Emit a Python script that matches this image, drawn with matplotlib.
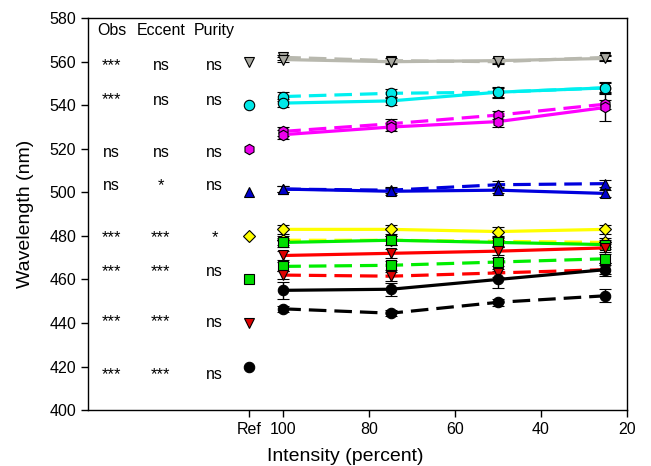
import matplotlib
matplotlib.use("Agg")
import matplotlib.pyplot as plt

plt.rcParams['font.family'] = ['Liberation Sans', 'DejaVu Sans']

intensity = [100, 75, 50, 25]
ref_x = 108

names = ["gray", "cyan", "magenta", "blue", "yellow", "green", "red", "black"]
line_colors = ["#b8b8ae", "#00f0f0", "#ff00ff", "#0000dd", "#ffff00", "#00ee00", "#ff0000", "#000000"]
face_colors = ["#a8a8a0", "#00e8e8", "#ee00ee", "#0000cc", "#ffff00", "#00dd00", "#dd0000", "#000000"]
markers = ["v", "o", "h", "^", "D", "s", "v", "o"]
ref_values = [560, 540, 520, 500, 480, 460, 440, 420]

solid_vals = [
    [561, 560, 560.5, 561.5],
    [541, 542, 546, 548],
    [526.5, 530, 532.5, 539],
    [501.5, 500.5, 501, 499.5],
    [483, 483, 482, 483],
    [477, 478, 477, 476],
    [471, 472, 473, 474.5],
    [455, 455.5, 460, 464.5],
]
solid_err = [
    [1, 1, 1, 1],
    [2, 2, 2.5, 2.5],
    [2, 2, 2.5, 6],
    [1.5, 1.5, 1.5, 1.5],
    [2, 2, 2, 2],
    [2, 2, 2, 2],
    [2, 2, 2, 2],
    [4, 3, 4, 3],
]
dashed_vals = [
    [562, 560.5, 560, 562],
    [544, 545.5, 546, 548],
    [528, 531.5, 535.5, 540.5],
    [501.5, 501, 503.5, 504],
    [478, 478, 477.5, 477],
    [466, 466.5, 468, 469.5],
    [462, 461.5, 463, 464.5],
    [446.5, 444.5, 449.5, 452.5],
]
dashed_err = [
    [1, 1, 1, 1],
    [2, 2, 2, 2],
    [2, 2, 2, 2],
    [1.5, 1.5, 1.5, 1.5],
    [2, 2, 2, 2],
    [2, 2, 2, 2],
    [2, 2, 2, 2],
    [1.5, 1.5, 1.5, 3],
]

col_headers = ["Obs", "Eccent", "Purity"]
col_x = [140, 128.5, 116]
obs_sig = ["***", "***", "ns", "ns", "***", "***", "***", "***"]
ecc_sig = ["ns", "ns", "ns", "*", "***", "***", "***", "***"]
pur_sig = ["ns", "ns", "ns", "ns", "*", "ns", "ns", "ns"]
row_y = [558.4, 542.4, 518.5, 503.3, 479.0, 463.8, 440.4, 416.5]

fig = plt.figure(figsize=(6.51, 4.66), dpi=100)
ax = fig.add_axes([0.135, 0.12, 0.828, 0.841])

for i in range(len(names)):
    ms = 7.5 if markers[i] != "D" else 6.5
    ax.errorbar(intensity, dashed_vals[i], yerr=dashed_err[i], color=line_colors[i],
                ls=(0, (5.5, 2.5)), lw=2.3, marker=markers[i], ms=ms,
                mfc=face_colors[i], mec="black", mew=0.8, ecolor="black", elinewidth=1,
                capsize=4, capthick=1, zorder=3)
    ax.errorbar(intensity, solid_vals[i], yerr=solid_err[i], color=line_colors[i],
                ls="-", lw=2.3, marker=markers[i], ms=ms,
                mfc=face_colors[i], mec="black", mew=0.8, ecolor="black", elinewidth=1,
                capsize=4, capthick=1, zorder=3)
    ax.plot([ref_x], [ref_values[i]], marker=markers[i], ms=ms,
            mfc=face_colors[i], mec="black", mew=0.8, ls="none")

for hx, h in zip(col_x, col_headers):
    ax.text(hx, 574.5, h, ha="center", va="center", fontsize=11.5)
for col, sigs in zip(col_x, [obs_sig, ecc_sig, pur_sig]):
    for yv, s in zip(row_y, sigs):
        ax.text(col, yv, s, ha="center", va="center", fontsize=11.5 if s == "ns" else 12)

ax.set_xlim(145.5, 20)
ax.set_ylim(400, 580)
ax.set_xticks([ref_x, 100, 80, 60, 40, 20])
ax.set_xticklabels(["Ref", "100", "80", "60", "40", "20"])
ax.set_yticks(range(400, 581, 20))
ax.tick_params(axis="both", direction="out", labelsize=11.5, length=5, width=1)
ax.set_xlabel("Intensity (percent)", fontsize=14)
ax.set_ylabel("Wavelength (nm)", fontsize=14)
ax.xaxis.set_label_coords(0.477, -0.098)
ax.yaxis.set_label_coords(-0.1, 0.5)
for sp in ax.spines.values():
    sp.set_linewidth(1)

fig.savefig("out.png", dpi=100)
